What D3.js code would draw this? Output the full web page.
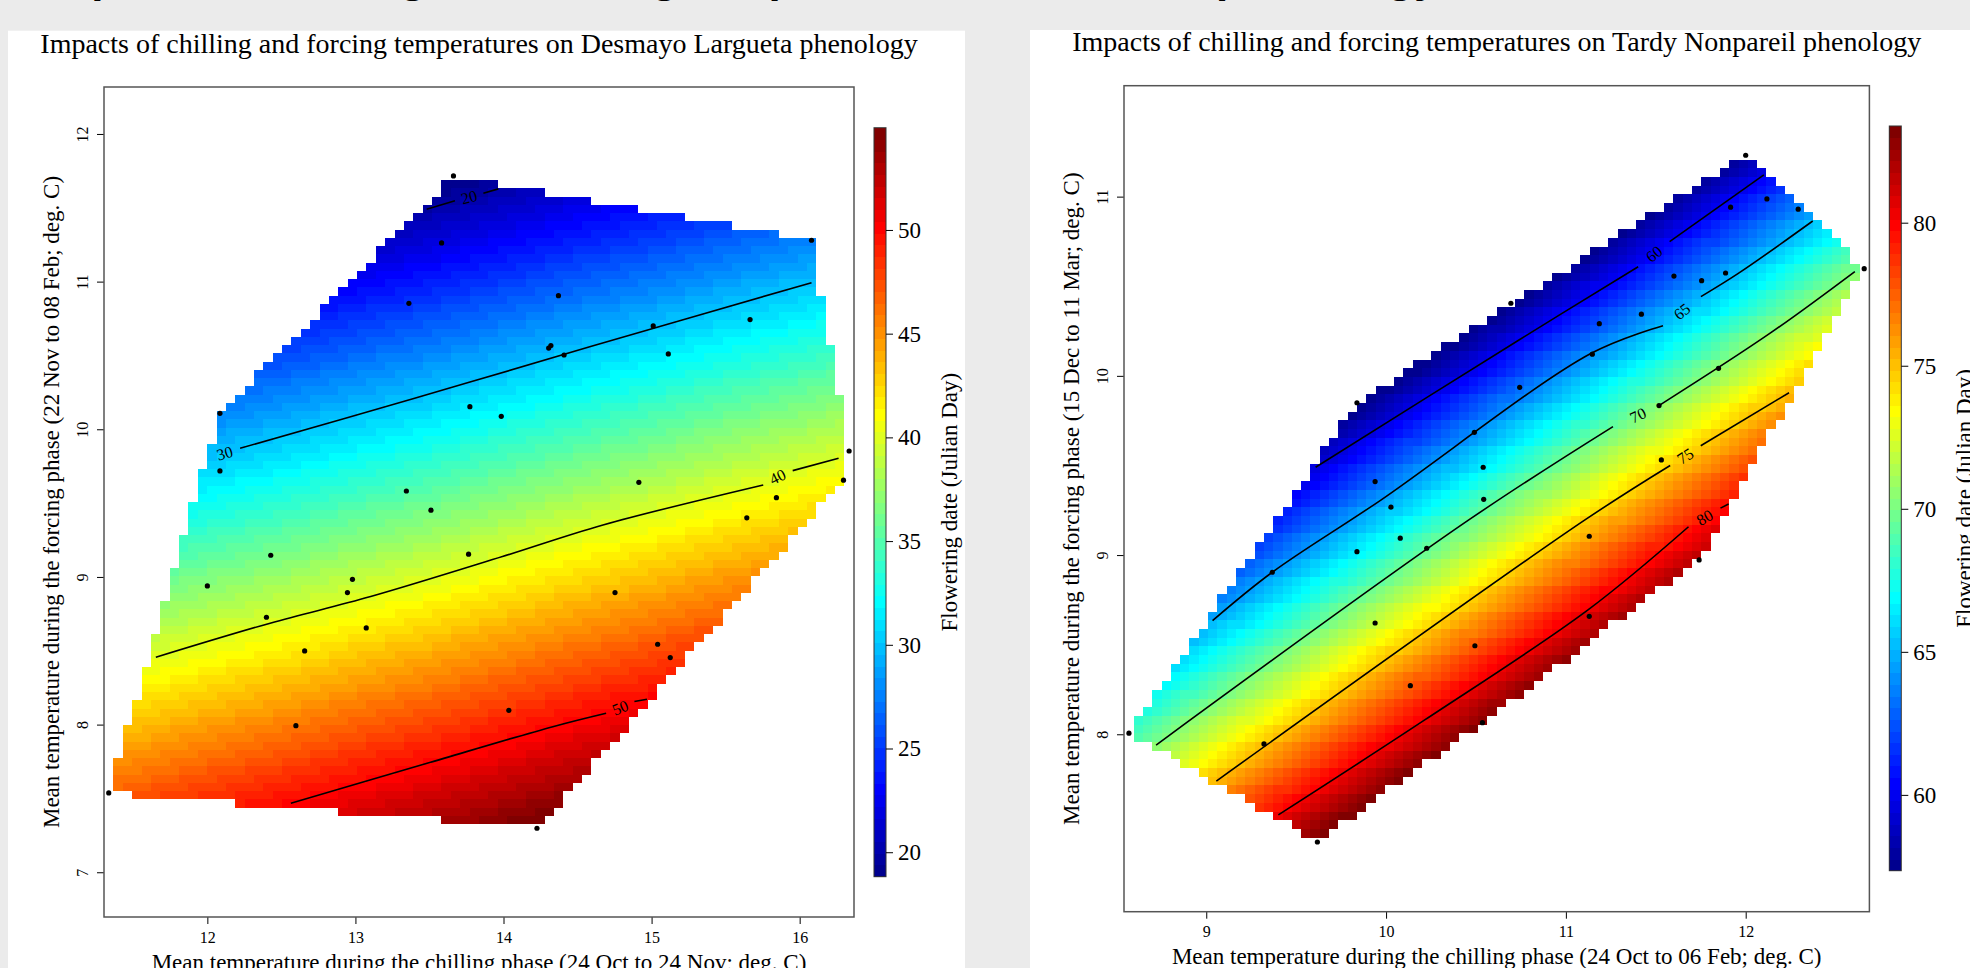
<!DOCTYPE html>
<html>
<head>
<meta charset="utf-8">
<script src="https://cdn.jsdelivr.net/npm/d3@7"></script>
<style>
  body { margin: 0; background: #ebebeb; overflow: hidden; }
  svg { display: block; }
  text { font-family: "Liberation Serif", "Times New Roman", serif; fill: #000; }
</style>
</head>
<body>
<svg id="chart" width="1970" height="968"></svg>
<script>
// ---- data ----

// observations: [chilling temp, forcing temp]
var pointsDesmayo = [
  [13.662, 11.716], [13.582, 11.262], [16.080, 11.280], [13.361, 10.853], [14.371, 10.905],
  [14.320, 10.567], [14.305, 10.550], [14.409, 10.503], [15.011, 10.700], [15.113, 10.510],
  [15.665, 10.743], [12.085, 10.108], [13.773, 10.153], [13.985, 10.088], [12.085, 9.718],
  [13.344, 9.582], [14.914, 9.641], [16.334, 9.853], [16.296, 9.655], [15.843, 9.537],
  [13.510, 9.452], [15.643, 9.400], [12.428, 9.147], [13.764, 9.154], [12.000, 8.939],
  [12.980, 8.984], [12.946, 8.894], [14.753, 8.894], [12.399, 8.727], [13.073, 8.655],
  [12.657, 8.499], [15.041, 8.544], [15.126, 8.454], [14.036, 8.097], [12.598, 7.993],
  [11.334, 7.537], [14.226, 7.298]
];
var pointsTardy = [
  [12.000, 11.231], [12.118, 10.987], [11.916, 10.941], [12.292, 10.930], [12.659, 10.598],
  [11.601, 10.557], [11.755, 10.531], [11.888, 10.574], [10.694, 10.405], [11.420, 10.344],
  [11.186, 10.291], [11.147, 10.121], [10.743, 9.936], [11.849, 10.042], [9.838, 9.850],
  [11.518, 9.834], [10.491, 9.685], [11.531, 9.531], [10.540, 9.490], [9.939, 9.410],
  [10.543, 9.311], [10.027, 9.267], [10.079, 9.094], [9.838, 9.019], [10.226, 9.038],
  [11.130, 9.105], [9.367, 8.904], [11.741, 8.973], [9.939, 8.621], [11.130, 8.658],
  [10.494, 8.494], [10.135, 8.271], [10.536, 8.065], [8.570, 8.006], [9.321, 7.946],
  [9.618, 7.399]
];

// flowering date surface read at coarse nodes (rows = forcing temp, cols = chilling temp)
var surfXDesmayo = [11.0, 11.5, 12.0, 12.5, 13.0, 13.5, 14.0, 14.5, 15.0, 15.5, 16.0, 16.5];
var surfYDesmayo = [7.0, 7.5, 8.0, 8.5, 9.0, 9.5, 10.0, 10.5, 11.0, 11.5, 12.0];
var surfZDesmayo = [
  [50.1, 51.3, 52.5, 53.6, 54.8, 55.9, 57.1, 58.3, 59.4, 60.6, 61.7, 62.9],
  [46.1, 47.3, 48.5, 49.6, 50.8, 51.9, 53.1, 54.3, 55.4, 56.6, 57.7, 58.9],
  [42.1, 43.3, 44.5, 45.6, 46.8, 47.9, 49.1, 50.3, 51.4, 52.6, 53.7, 54.9],
  [38.1, 39.3, 40.5, 41.6, 42.8, 43.9, 45.1, 46.3, 47.4, 48.6, 49.7, 50.9],
  [34.1, 35.3, 36.5, 37.6, 38.8, 39.9, 41.1, 42.3, 43.4, 44.6, 45.7, 46.9],
  [30.1, 31.3, 32.5, 33.6, 34.8, 35.9, 37.1, 38.3, 39.4, 40.6, 41.7, 42.9],
  [26.1, 27.3, 28.5, 29.6, 30.8, 31.9, 33.1, 34.3, 35.4, 36.6, 37.7, 38.9],
  [22.1, 23.3, 24.5, 25.6, 26.8, 27.9, 29.1, 30.3, 31.4, 32.6, 33.7, 34.9],
  [18.1, 19.3, 20.5, 21.6, 22.8, 23.9, 25.1, 26.3, 27.4, 28.6, 29.7, 30.9],
  [14.1, 15.3, 16.5, 17.6, 18.8, 19.9, 21.1, 22.3, 23.4, 24.6, 25.7, 26.9],
  [10.1, 11.3, 12.5, 13.6, 14.8, 15.9, 17.1, 18.3, 19.4, 20.6, 21.7, 22.9]
];
var surfXTardy = [8.5, 9.0, 9.5, 10.0, 10.5, 11.0, 11.5, 12.0, 12.5, 13.0];
var surfYTardy = [7.0, 7.5, 8.0, 8.5, 9.0, 9.5, 10.0, 10.5, 11.0, 11.5];
var surfZTardy = [
  [79.5, 83.3, 87.2, 91.1, 95.0, 98.9, 102.7, 106.6, 110.5, 114.4],
  [73.7, 77.6, 81.5, 85.4, 89.2, 93.1, 97.0, 100.9, 104.8, 108.6],
  [68.0, 71.8, 75.7, 79.6, 83.5, 87.4, 91.2, 95.1, 99.0, 102.9],
  [62.2, 66.1, 70.0, 73.9, 77.7, 81.6, 85.5, 89.4, 93.3, 97.1],
  [56.5, 60.3, 64.2, 68.1, 72.0, 75.9, 79.7, 83.6, 87.5, 91.4],
  [50.7, 54.6, 58.5, 62.4, 66.2, 70.1, 74.0, 77.9, 81.8, 85.6],
  [45.0, 48.8, 52.7, 56.6, 60.5, 64.4, 68.2, 72.1, 76.0, 79.9],
  [39.2, 43.1, 47.0, 50.9, 54.7, 58.6, 62.5, 66.4, 70.3, 74.1],
  [33.5, 37.3, 41.2, 45.1, 49.0, 52.9, 56.7, 60.6, 64.5, 68.4],
  [27.7, 31.6, 35.5, 39.4, 43.2, 47.1, 51.0, 54.9, 58.8, 62.6]
];

// contour lines (pieces split where the label sits)
var contoursDesmayo = [
  { level: 20, label: [13.768, 11.573],
    lines: [[[13.481, 11.490], [13.672, 11.548]], [[13.864, 11.598], [13.965, 11.628]]] },
  { level: 30, label: [12.117, 9.838],
    lines: [[[12.221, 9.871], [13.400, 10.210], [14.588, 10.560], [16.080, 10.993]]] },
  { level: 40, label: [15.851, 9.679],
    lines: [[[11.652, 8.456], [12.424, 8.687], [13.103, 8.867], [13.993, 9.138], [14.672, 9.352], [15.754, 9.623]],
            [[15.953, 9.720], [16.263, 9.804]]] },
  { level: 50, label: [14.788, 8.115],
    lines: [[[12.564, 7.467], [13.484, 7.738], [14.333, 7.986], [14.693, 8.077]], [[14.884, 8.156], [14.969, 8.172]]] }
];
var contoursTardy = [
  { level: 60, label: [11.490, 10.680],
    lines: [[[9.608, 9.490], [10.739, 10.200], [11.402, 10.609]], [[11.577, 10.749], [12.101, 11.121]]] },
  { level: 65, label: [11.645, 10.360],
    lines: [[[9.035, 8.634], [9.367, 8.904], [9.971, 9.307], [11.141, 10.126], [11.540, 10.280]],
            [[11.751, 10.442], [11.961, 10.573], [12.373, 10.864]]] },
  { level: 70, label: [11.400, 9.780],
    lines: [[[8.721, 7.940], [10.460, 9.196], [11.262, 9.717]], [[11.524, 9.838], [12.136, 10.238], [12.607, 10.582]]] },
  { level: 75, label: [11.664, 9.553],
    lines: [[[9.056, 7.739], [11.106, 9.196], [11.580, 9.500]], [[11.750, 9.610], [12.241, 9.906]]] },
  { level: 80, label: [11.772, 9.210],
    lines: [[[9.401, 7.550], [10.215, 8.080], [11.123, 8.694], [11.682, 9.158]], [[11.860, 9.262], [11.905, 9.285]]] }
];

var zRangeDesmayo = [18.82, 54.93];
var zRangeTardy = [57.35, 83.38];

var xTicksDesmayo = [12, 13, 14, 15, 16];
var yTicksDesmayo = [7, 8, 9, 10, 11, 12];
var legendTicksDesmayo = [20, 25, 30, 35, 40, 45, 50];
var xTicksTardy = [9, 10, 11, 12];
var yTicksTardy = [8, 9, 10, 11];
var legendTicksTardy = [60, 65, 70, 75, 80];

// ---- layout ----
var panels = [
  {
    title: "Impacts of chilling and forcing temperatures on Desmayo Largueta phenology",
    xTitle: "Mean temperature during the chilling phase (24 Oct to 24 Nov; deg. C)",
    yTitle: "Mean temperature during the forcing phase (22 Nov to 08 Feb; deg. C)",
    points: pointsDesmayo, sx: surfXDesmayo, sy: surfYDesmayo, sz: surfZDesmayo,
    contours: contoursDesmayo, zRange: zRangeDesmayo,
    xTicks: xTicksDesmayo, yTicks: yTicksDesmayo, legendTicks: legendTicksDesmayo,
    bg: [8, 30.7, 957, 940], box: [104, 87, 854, 917],
    xDomain: [11.302, 16.367], yDomain: [6.697, 12.318],
    legend: [874, 127.7, 886, 876.7]
  },
  {
    title: "Impacts of chilling and forcing temperatures on Tardy Nonpareil phenology",
    xTitle: "Mean temperature during the chilling phase (24 Oct to 06 Feb; deg. C)",
    yTitle: "Mean temperature during the forcing phase (15 Dec to 11 Mar; deg. C)",
    points: pointsTardy, sx: surfXTardy, sy: surfYTardy, sz: surfZTardy,
    contours: contoursTardy, zRange: zRangeTardy,
    xTicks: xTicksTardy, yTicks: yTicksTardy, legendTicks: legendTicksTardy,
    bg: [1030, 30, 940, 940], box: [1124, 85.7, 1869.4, 911.7],
    xDomain: [8.5425, 12.688], yDomain: [7.010, 11.619],
    legend: [1889.3, 126, 1901.3, 870.7]
  }
];

// tim.colors style palette, 64 steps
var jet = d3.scaleLinear()
  .domain([0, 7, 23, 39, 55, 63])
  .range(["#00008F", "#0000FF", "#00FFFF", "#FFFF00", "#FF0000", "#800000"]);
var palette = d3.range(64).map(function(k) { return jet(k); });

var svg = d3.select("#chart");

// heading of the page, almost entirely cut off at the top
svg.append("text")
  .attr("x", 40)
  .attr("y", -8)
  .style("font-family", "'Liberation Sans', Arial, sans-serif")
  .style("font-weight", "bold")
  .style("font-size", "44px")
  .text("Impacts of chilling and forcing temperatures on almond phenology");

function surfaceAt(p, px, py) {
  var i = Math.max(0, Math.min(p.sx.length - 2, d3.bisectRight(p.sx, px) - 1));
  var j = Math.max(0, Math.min(p.sy.length - 2, d3.bisectRight(p.sy, py) - 1));
  var tx = (px - p.sx[i]) / (p.sx[i + 1] - p.sx[i]);
  var ty = (py - p.sy[j]) / (p.sy[j + 1] - p.sy[j]);
  var bot = d3.interpolateNumber(p.sz[j][i], p.sz[j][i + 1])(tx);
  var top = d3.interpolateNumber(p.sz[j + 1][i], p.sz[j + 1][i + 1])(tx);
  return d3.interpolateNumber(bot, top)(ty);
}

function drawPanel(p, idx) {
  var g = svg.append("g").attr("class", "panel-" + idx);

  g.append("rect")
    .attr("x", p.bg[0]).attr("y", p.bg[1])
    .attr("width", p.bg[2]).attr("height", p.bg[3])
    .attr("fill", "#fff");

  var x = d3.scaleLinear().domain(p.xDomain).range([p.box[0], p.box[2]]);
  var y = d3.scaleLinear().domain(p.yDomain).range([p.box[3], p.box[1]]);
  var color = d3.scaleQuantize().domain(p.zRange).range(palette);

  // 80 x 80 grid over the observed range, masked to the convex hull
  var hull = d3.polygonHull(p.points);
  var xe = d3.extent(p.points, function(d) { return d[0]; });
  var ye = d3.extent(p.points, function(d) { return d[1]; });
  var n = 80;
  var dx = (xe[1] - xe[0]) / (n - 1), dy = (ye[1] - ye[0]) / (n - 1);
  var cells = [];
  for (var j = 0; j < n; j++) {
    for (var i = 0; i < n; i++) {
      var cx = xe[0] + i * dx, cy = ye[0] + j * dy;
      if (d3.polygonContains(hull, [cx, cy])) {
        cells.push({ cx: cx, cy: cy, z: surfaceAt(p, cx, cy) });
      }
    }
  }

  g.append("g")
    .attr("shape-rendering", "crispEdges")
    .selectAll("rect")
    .data(cells)
    .join("rect")
    .attr("x", function(d) { return Math.round(x(d.cx - dx / 2)); })
    .attr("y", function(d) { return Math.round(y(d.cy + dy / 2)); })
    .attr("width", function(d) { return Math.round(x(d.cx + dx / 2)) - Math.round(x(d.cx - dx / 2)); })
    .attr("height", function(d) { return Math.round(y(d.cy - dy / 2)) - Math.round(y(d.cy + dy / 2)); })
    .attr("fill", function(d) {
      var z = Math.max(p.zRange[0], Math.min(p.zRange[1] - 1e-6, d.z));
      return color(z);
    });

  // contour lines
  var line = d3.line()
    .curve(d3.curveCatmullRom.alpha(0.5))
    .x(function(d) { return x(d[0]); })
    .y(function(d) { return y(d[1]); });

  var cg = g.append("g");
  p.contours.forEach(function(c) {
    cg.selectAll(null)
      .data(c.lines)
      .join("path")
      .attr("d", line)
      .attr("fill", "none")
      .attr("stroke", "#000")
      .attr("stroke-width", 1.6);

    var a, b;
    if (c.lines.length > 1) {
      a = c.lines[0][c.lines[0].length - 1];
      b = c.lines[1][0];
    } else {
      a = c.lines[0][0];
      b = c.lines[0][1];
    }
    var ang = Math.atan2(y(b[1]) - y(a[1]), x(b[0]) - x(a[0])) * 180 / Math.PI;
    cg.append("text")
      .attr("transform", "translate(" + x(c.label[0]) + "," + y(c.label[1]) + ") rotate(" + ang + ")")
      .attr("text-anchor", "middle")
      .attr("dy", "0.35em")
      .style("font-size", "16px")
      .text(c.level);
  });

  // observations
  g.append("g")
    .selectAll("circle")
    .data(p.points)
    .join("circle")
    .attr("cx", function(d) { return x(d[0]); })
    .attr("cy", function(d) { return y(d[1]); })
    .attr("r", 2.6)
    .attr("fill", "#000");

  // axes
  var xa = g.append("g")
    .attr("transform", "translate(0," + p.box[3] + ")")
    .call(d3.axisBottom(x).tickValues(p.xTicks).tickSize(7).tickSizeOuter(0).tickFormat(d3.format("d")));
  xa.select(".domain").remove();
  xa.selectAll("text")
    .attr("y", 25.5).attr("dy", null)
    .style("font-family", "'Liberation Serif', serif")
    .style("font-size", "16px");

  var ya = g.append("g")
    .attr("transform", "translate(" + p.box[0] + ",0)")
    .call(d3.axisLeft(y).tickValues(p.yTicks).tickSize(7).tickSizeOuter(0).tickFormat(d3.format("d")));
  ya.select(".domain").remove();
  ya.selectAll("text")
    .attr("x", 0).attr("dy", null)
    .attr("text-anchor", "middle")
    .attr("transform", "translate(-16,0) rotate(-90)")
    .style("font-family", "'Liberation Serif', serif")
    .style("font-size", "16px");

  // plot box
  g.append("rect")
    .attr("x", p.box[0]).attr("y", p.box[1])
    .attr("width", p.box[2] - p.box[0]).attr("height", p.box[3] - p.box[1])
    .attr("fill", "none")
    .attr("stroke", "#555")
    .attr("stroke-width", 1.5);

  var cxm = (p.box[0] + p.box[2]) / 2, cym = (p.box[1] + p.box[3]) / 2;

  g.append("text")
    .attr("x", cxm).attr("y", p.box[1] - 34.3)
    .attr("text-anchor", "middle")
    .style("font-size", "28px")
    .text(p.title);

  g.append("text")
    .attr("x", cxm).attr("y", p.box[3] + 52.5)
    .attr("text-anchor", "middle")
    .style("font-size", "23px")
    .text(p.xTitle);

  g.append("text")
    .attr("transform", "translate(" + (p.box[0] - 45) + "," + cym + ") rotate(-90)")
    .attr("text-anchor", "middle")
    .style("font-size", "23px")
    .text(p.yTitle);

  // colour legend
  var z = d3.scaleLinear().domain(p.zRange).range([p.legend[3], p.legend[1]]);
  var step = (p.zRange[1] - p.zRange[0]) / palette.length;
  var lg = g.append("g");
  lg.append("g")
    .attr("shape-rendering", "crispEdges")
    .selectAll("rect")
    .data(palette)
    .join("rect")
    .attr("x", p.legend[0])
    .attr("width", p.legend[2] - p.legend[0])
    .attr("y", function(d, k) { return z(p.zRange[0] + (k + 1) * step); })
    .attr("height", function(d, k) { return z(p.zRange[0] + k * step) - z(p.zRange[0] + (k + 1) * step) + 0.5; })
    .attr("fill", function(d) { return d; });
  lg.append("rect")
    .attr("x", p.legend[0]).attr("y", p.legend[1])
    .attr("width", p.legend[2] - p.legend[0]).attr("height", p.legend[3] - p.legend[1])
    .attr("fill", "none")
    .attr("stroke", "#333")
    .attr("stroke-width", 1);

  var la = lg.append("g")
    .attr("transform", "translate(" + p.legend[2] + ",0)")
    .call(d3.axisRight(z).tickValues(p.legendTicks).tickSize(7).tickPadding(5).tickFormat(d3.format("d")));
  la.select(".domain").remove();
  la.selectAll("text")
    .style("font-family", "'Liberation Serif', serif")
    .style("font-size", "23px");

  lg.append("text")
    .attr("transform", "translate(" + (p.legend[0] + 83) + "," + ((p.legend[1] + p.legend[3]) / 2) + ") rotate(-90)")
    .attr("text-anchor", "middle")
    .style("font-size", "23px")
    .text("Flowering date (Julian Day)");
}

panels.forEach(drawPanel);
</script>
</body>
</html>
